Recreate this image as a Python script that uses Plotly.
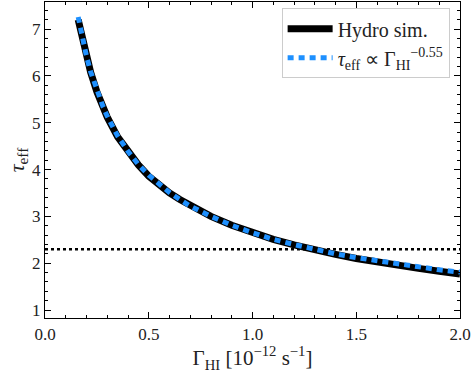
import plotly.graph_objects as go

gamma = [0.16, 0.18, 0.20, 0.22, 0.25, 0.28, 0.30, 0.35, 0.40, 0.45, 0.50, 0.55, 0.60, 0.65, 0.70, 0.80, 0.90, 1.00, 1.10, 1.20, 1.30, 1.40, 1.50, 1.60, 1.70, 1.80, 1.90, 2.00]
tau_sim = [7.20, 6.80, 6.42, 6.08, 5.66, 5.32, 5.12, 4.70, 4.37, 4.10, 3.86, 3.67, 3.50, 3.36, 3.23, 3.00, 2.81, 2.65, 2.51, 2.39, 2.28, 2.19, 2.10, 2.02, 1.95, 1.89, 1.83, 1.77]
tau_fit = [7.26, 6.81, 6.42, 6.09, 5.68, 5.34, 5.14, 4.72, 4.39, 4.11, 3.88, 3.68, 3.51, 3.36, 3.22, 3.00, 2.81, 2.65, 2.51, 2.40, 2.29, 2.20, 2.12, 2.05, 1.98, 1.92, 1.86, 1.81]
tau_obs = 2.30
x_range = [0.0, 2.0]
y_range = [0.83, 7.58]
x_ticks = [0.0, 0.5, 1.0, 1.5, 2.0]
x_ticktext = ["0.0", "0.5", "1.0", "1.5", "2.0"]

font = "Liberation Serif"
txt = "#222"

fig = go.Figure()
fig.add_trace(go.Scatter(x=x_range, y=[tau_obs, tau_obs], mode="lines",
                         line=dict(color="black", width=2.5, dash="dot"), showlegend=False))
fig.add_trace(go.Scatter(x=gamma, y=tau_sim, mode="lines", name="Hydro sim.",
                         line=dict(color="black", width=7)))
fig.add_trace(go.Scatter(x=gamma, y=tau_fit, mode="lines",
                         name="<i>τ</i><sub>eff</sub> ∝ Γ<sub>HI</sub><sup>−0.55</sup>",
                         line=dict(color="#1E90FF", width=5, dash="6px,5px")))

axis_common = dict(showgrid=False, zeroline=False, showline=True, linecolor="black", linewidth=1.2,
                   mirror="ticks", ticks="inside", ticklen=6, tickwidth=1, tickcolor="black",
                   tickfont=dict(family=font, size=17, color=txt))
fig.update_xaxes(range=x_range, tickvals=x_ticks, ticktext=x_ticktext, ticklabeloverflow="allow",
                 minor=dict(ticks="inside", dtick=0.1, ticklen=3, tickcolor="black"),
                 title=dict(text="Γ<sub>HI</sub> [10<sup>−12</sup> s<sup>−1</sup>]",
                            font=dict(family=font, size=21, color=txt), standoff=0),
                 **axis_common)
fig.update_yaxes(range=y_range, dtick=1,
                 minor=dict(ticks="inside", dtick=0.2, ticklen=3, tickcolor="black"),
                 title=dict(text="<i>τ</i><sub>eff</sub>", font=dict(family=font, size=22, color=txt), standoff=1),
                 **axis_common)

fig.update_layout(
    width=473, height=373,
    margin=dict(l=45, r=13, t=2, b=55),
    plot_bgcolor="white", paper_bgcolor="white",
    legend=dict(x=0.975, y=0.98, xanchor="right", yanchor="top",
                bgcolor="white", bordercolor="#cccccc", borderwidth=1,
                font=dict(family=font, size=20, color=txt), itemwidth=45),
)
fig.write_html("out.html", config={"displayModeBar": False},
               post_script="document.body.style.margin='0';document.body.style.padding='0';")
